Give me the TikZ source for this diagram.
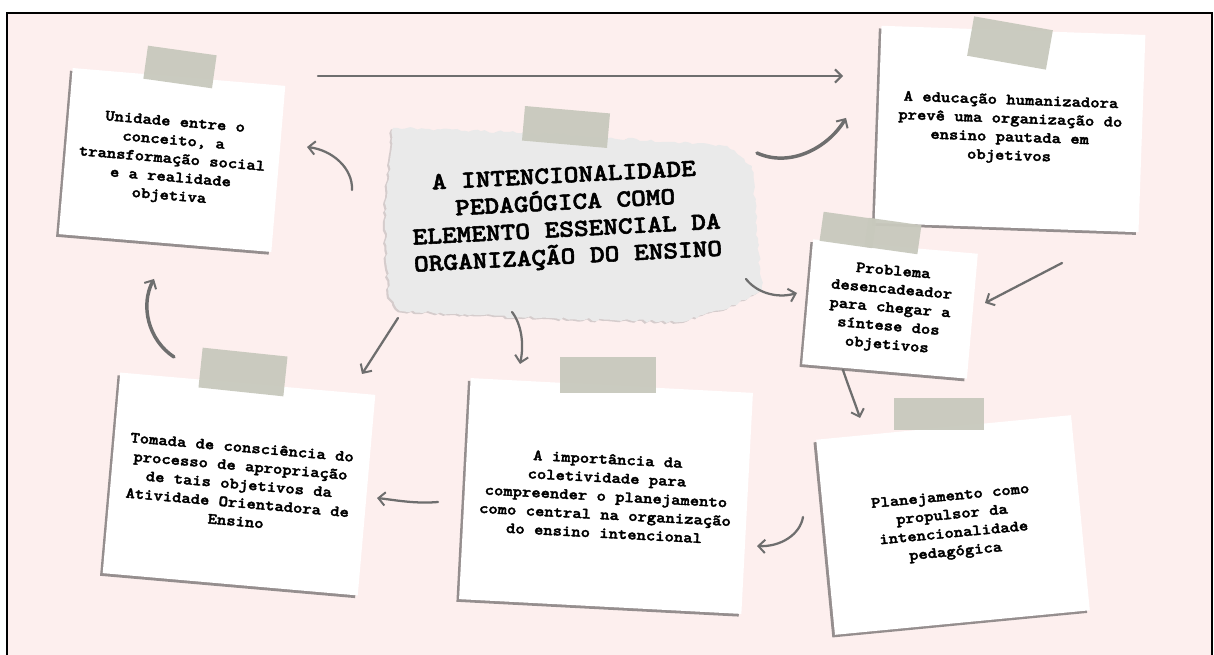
\documentclass[tikz,border=0pt]{standalone}
\usepackage{fontspec}
\newfontfamily\courfont{lmmonolt10-bold.otf}[FakeStretch=1.14,FakeBold=2.2]
\usetikzlibrary{arrows.meta,shadows,decorations.pathmorphing}
\definecolor{bgpink}{RGB}{253,239,238}
\definecolor{tapegray}{RGB}{200,201,189}
\definecolor{arrgray}{RGB}{110,110,110}
\definecolor{papergray}{RGB}{234,234,234}
\tikzset{
  note/.style={fill=white, inner sep=0pt, align=center,
    font=\courfont\fontsize{11.7}{13.9}\selectfont,
    drop shadow={shadow xshift=-2pt, shadow yshift=-2pt, fill=black!75, opacity=.55}},
  tape/.style={fill=tapegray, fill opacity=.95, inner sep=0pt},
  arr/.style={draw=arrgray, line width=1.7pt, line cap=round,
    -{Straight Barb[length=5pt, width=10pt, line width=1.5pt]}},
  bigarr/.style={arr, line width=2.6pt},
}
\begin{document}
\begin{tikzpicture}[x=0.75pt,y=0.75pt,yscale=-1,xscale=1]
\useasboundingbox (0,0) rectangle (1214,655);
%Shape: Frame
\fill[white] (0,0) rectangle (1214,655);
\draw[fill=bgpink, line width=1.6pt] (7,13) rectangle (1212,670);

%Shape: Torn paper
\pgfmathsetseed{7}
\fill[papergray, drop shadow={shadow xshift=-1.5pt, shadow yshift=-1pt, fill=black!40, opacity=.4},
  decorate, decoration={random steps, segment length=3pt, amplitude=1.1pt}]
  (393,128) -- (560,134) -- (727,146) -- (752,166) -- (757,230) -- (762,290)
  -- (735,305) -- (680,322) -- (540,318) -- (400,311) -- (389,297) -- (385,220) -- (390,160) -- cycle;
% Text Node
\node[rotate=3, align=center, inner sep=0pt, font=\courfont\fontsize{18.4}{20.3}\selectfont] (title) at (566,218)
  {A INTENCIONALIDADE\\PEDAGÓGICA COMO\\ELEMENTO ESSENCIAL DA\\ORGANIZAÇÃO DO ENSINO};

%Shape: Notes
\node[note, rotate=-4.8, minimum width=160pt, minimum height=125pt] (unid) at (172,160)
  {Unidade entre o\\conceito, a\\transformação social\\e a realidade\\objetiva};
\node[note, rotate=-2, minimum width=198pt, minimum height=148pt] (edu) at (1010,129)
  {A educação humanizadora\\prevê uma organização do\\ensino pautada em\\objetivos};
\node[note, rotate=-5, minimum width=124pt, minimum height=94pt] (prob) at (890,309)
  {Problema\\desencadeador\\para chegar a\\síntese dos\\objetivos};
\node[note, rotate=5.5, minimum width=192pt, minimum height=147pt] (plan) at (953,525)
  {Planejamento como\\propulsor da\\intencionalidade\\pedagógica};
\node[note, rotate=-3, minimum width=212pt, minimum height=166pt] (imp) at (606,496)
  {A importância da\\coletividade para\\compreender o planejamento\\como central na organização\\do ensino intencional};
\node[note, rotate=-5, minimum width=192pt, minimum height=151pt] (tom) at (239,484)
  {Tomada de consciência do\\processo de apropriação\\de tais objetivos da\\Atividade Orientadora de\\Ensino};

%Shape: Tapes
\node[tape, rotate=-8, minimum width=52pt, minimum height=25pt] (tunid) at (180,67) {};
\node[tape, rotate=-5, minimum width=64pt, minimum height=26pt] (ttitle) at (566,127) {};
\node[tape, rotate=-10, minimum width=60pt, minimum height=30pt] (tedu) at (1010,43) {};
\node[tape, rotate=-8, minimum width=40pt, minimum height=22pt] (tprob1) at (848,230) {};
\node[tape, rotate=-8, minimum width=40pt, minimum height=22pt] (tprob2) at (893,236) {};
\node[tape, rotate=0, minimum width=68pt, minimum height=24pt] (tplan) at (939,414) {};
\node[tape, rotate=0, minimum width=72pt, minimum height=27pt] (timp) at (608,375) {};
\node[tape, rotate=-6, minimum width=64pt, minimum height=30pt] (ttom) at (243,372) {};

%Straight Lines and curves
\coordinate (a1) at (318,76);   \coordinate (a2) at (843,76);
\coordinate (b1) at (757,153);  \coordinate (b2) at (846,118);
\coordinate (c1) at (352,190);  \coordinate (c2) at (307,147);
\coordinate (d1) at (174,357);  \coordinate (d2) at (154,279);
\coordinate (e1) at (398,318);  \coordinate (e2) at (362,374);
\coordinate (f1) at (512,312);  \coordinate (f2) at (520,364);
\coordinate (g1) at (746,279);  \coordinate (g2) at (797,293);
\coordinate (h1) at (1062,263); \coordinate (h2) at (985,303);
\coordinate (i1) at (843,370);  \coordinate (i2) at (860,418);
\coordinate (j1) at (803,517);  \coordinate (j2) at (757,546);
\coordinate (k1) at (438,502);  \coordinate (k2) at (377,498);

\draw[arr] (a1) -- (a2);
\draw[bigarr] (b1) .. controls (790,168) and (828,148) .. (b2);
\draw[arr] (c1) .. controls (353,168) and (332,150) .. (c2);
\draw[bigarr] (d1) .. controls (148,340) and (140,305) .. (d2);
\draw[arr] (e1) -- (e2);
\draw[arr] (f1) .. controls (522,325) and (524,345) .. (f2);
\draw[arr] (g1) .. controls (756,292) and (776,299) .. (g2);
\draw[arr] (h1) -- (h2);
\draw[arr] (i1) .. controls (849,388) and (855,403) .. (i2);
\draw[arr] (j1) .. controls (800,535) and (780,547) .. (j2);
\draw[arr] (k1) .. controls (415,504) and (395,500) .. (k2);
\end{tikzpicture}
\end{document}
